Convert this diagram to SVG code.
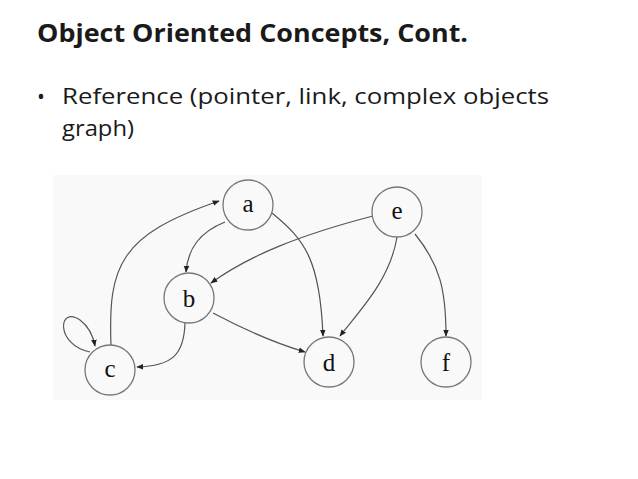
<svg xmlns="http://www.w3.org/2000/svg" width="638" height="479" viewBox="0 0 638 479">
<style>
.t{font-family:"Open Sans","Liberation Sans",sans-serif;fill:#1a1a1a}
.n circle{fill:none;stroke:#777;stroke-width:1.3}
.n text{font-family:"Liberation Serif",serif;font-size:25px;fill:#111;text-anchor:middle}
#edges path{fill:none;stroke:#555;stroke-width:1.2;marker-end:url(#ah)}
</style>
<defs><marker id="ah" viewBox="0 0 10 10" refX="9" refY="5" markerWidth="7" markerHeight="7" orient="auto" markerUnits="userSpaceOnUse"><path d="M0,1L10,5L0,9z" fill="#222"/></marker></defs>
<rect width="638" height="479" fill="#fff"/>
<text class="t" x="37" y="42" font-size="25" font-weight="bold" textLength="431" lengthAdjust="spacingAndGlyphs">Object Oriented Concepts, Cont.</text>
<text class="t" x="37" y="104" font-size="21">•</text>
<text class="t" x="62" y="104" font-size="21" textLength="487" lengthAdjust="spacingAndGlyphs">Reference (pointer, link, complex objects</text>
<text class="t" x="62" y="136" font-size="21" textLength="72" lengthAdjust="spacingAndGlyphs">graph)</text>
<rect x="53" y="175" width="429" height="225" fill="#f9f9f9"/>
<g id="edges">
<path d="M111,345 C108,265 120,235 219,201"/>
<path d="M225,222 C200,232 188,248 186,272"/>
<path d="M272,213 C305,240 320,260 323,336"/>
<path d="M373,216 C300,235 250,255 211,283"/>
<path d="M397,237 C390,280 360,310 340,336"/>
<path d="M415,234 C440,265 446,290 446,336"/>
<path d="M213,313 C245,330 275,343 305,352"/>
<path d="M185,323 C184,355 172,366 137,367"/>
<path d="M90,352 C55,345 58,305 80,320 C88,326 93,335 95,346"/>
</g>
<g id="a" class="n"><circle cx="248" cy="205" r="25"/><text x="248" y="212">a</text></g>
<g id="b" class="n"><circle cx="189" cy="298" r="25"/><text x="189" y="307">b</text></g>
<g id="c" class="n"><circle cx="110" cy="370" r="25"/><text x="110" y="377">c</text></g>
<g id="d" class="n"><circle cx="329" cy="362" r="25"/><text x="329" y="371">d</text></g>
<g id="e" class="n"><circle cx="397" cy="212" r="25"/><text x="397" y="219">e</text></g>
<g id="f" class="n"><circle cx="446" cy="362" r="25"/><text x="446" y="371">f</text></g>
</svg>
